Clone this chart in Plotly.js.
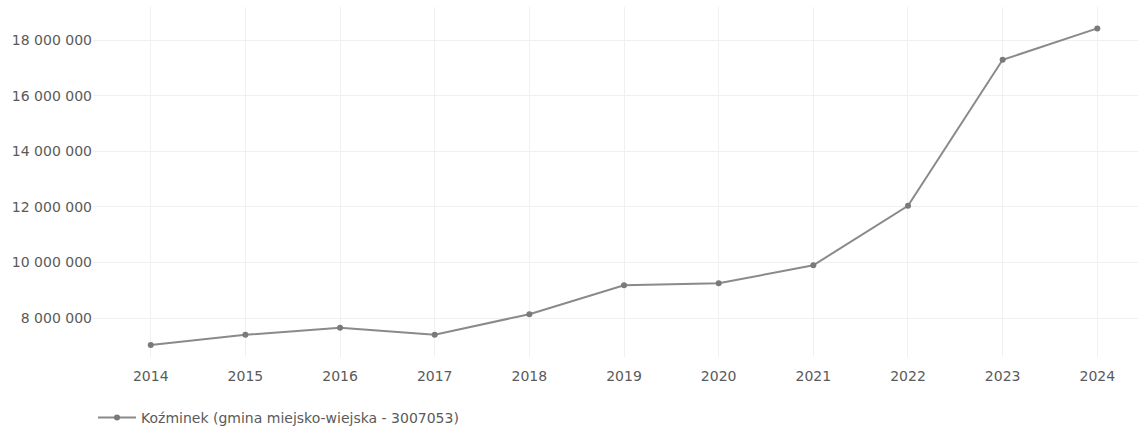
<!DOCTYPE html>
<html>
<head>
<meta charset="utf-8">
<script src="https://cdn.plot.ly/plotly-3.0.1.min.js"></script>
<style>html,body{margin:0;padding:0;background:#fff;}#chart{width:1140px;height:430px;}</style>
</head>
<body>
<div id="chart"></div>
<script>
const years = [2014, 2015, 2016, 2017, 2018, 2019, 2020, 2021, 2022, 2023, 2024];
const values = [7030000, 7400000, 7650000, 7400000, 8140000, 9180000, 9250000, 9900000, 12040000, 17290000, 18420000];
const seriesName = "Koźminek (gmina miejsko-wiejska - 3007053)";
const yTicks = [8000000, 10000000, 12000000, 14000000, 16000000, 18000000];

const trace = {
  x: years,
  y: values,
  name: seriesName,
  type: 'scatter',
  mode: 'lines+markers',
  line: {color: '#8a8a8a', width: 2},
  marker: {color: '#7a7a7a', size: 6},
  showlegend: true
};

const layout = {
  width: 1140,
  height: 430,
  margin: {l: 93, r: 2, t: 7, b: 73, autoexpand: false},
  paper_bgcolor: '#ffffff',
  plot_bgcolor: '#ffffff',
  separators: ', ',
  font: {family: 'DejaVu Sans, Verdana, sans-serif', size: 14, color: '#5a5a5a'},
  showlegend: true,
  legend: {orientation: 'h', x: 0.0, xanchor: 'left', y: -0.128, yanchor: 'top', itemwidth: 38, font: {size: 14, color: '#5a5a5a'}},
  xaxis: {
    range: [2013.39, 2024.43],
    tickvals: years,
    ticktext: years.map(String),
    showgrid: true,
    gridcolor: '#f0f0f0',
    zeroline: false,
    showline: false,
    ticks: 'outside',
    ticklen: 6,
    tickcolor: 'rgba(0,0,0,0)'
  },
  yaxis: {
    range: [6600000, 19190000],
    tickvals: yTicks,
    tickformat: ',d',
    showgrid: true,
    gridcolor: '#f0f0f0',
    zeroline: false,
    showline: false,
    ticks: '',
    ticklen: 0
  }
};

Plotly.newPlot('chart', [trace], layout, {displayModeBar: false, staticPlot: true});
</script>
</body>
</html>
